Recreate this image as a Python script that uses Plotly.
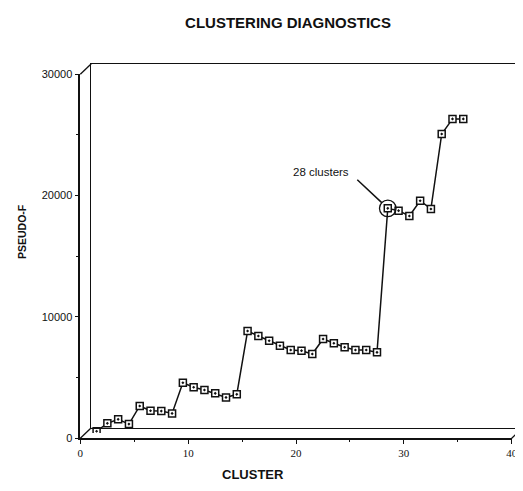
import plotly.graph_objects as go

# ---- data ----
clusters = list(range(1, 36))
pseudo_f = [150, 800, 1130, 740, 2230, 1840, 1810, 1620, 4150, 3770,
            3550, 3270, 2940, 3190, 8410, 8000, 7610, 7200, 6840, 6790,
            6510, 7750, 7400, 7070, 6840, 6840, 6650, 18520, 18330, 17890,
            19150, 18470, 24650, 25890, 25890]
x_ticks = [0, 10, 20, 30, 40]
y_ticks = [0, 10000, 20000, 30000]
x_tick_text = ["0", "10", "20", "30", "40"]
y_tick_text = ["0", "10000", "20000", "30000"]
highlight = 28

# the page places the figure 8px in from the top-left corner
OFF = 8
W, H = 523 - OFF, 491 - OFF
# front plane box (page pixels) and depth offset
FX0, FX1 = 80.3, 511.7
FY0, FY1 = 438.3, 74.3   # page y for 0 and 30000
DX, DY = 11.0, 10.5

def px(x):
    return (x - OFF) / W

def py(y):
    return (H - (y - OFF)) / H

def dom(shift):
    xd = [px(FX0 + DX * shift), px(FX1 + DX * shift)]
    yd = [py(FY0 - DY * shift), py(FY1 - DY * shift)]
    return xd, yd

xd_f, yd_f = dom(0)
xd_m, yd_m = dom(0.5)
xd_b, yd_b = dom(1)
xd_b[1] = min(xd_b[1], 1.0)

INK = "#111111"
fig = go.Figure()

# back wall / floor frame (axes 3)
fig.add_trace(go.Scatter(x=[None], y=[None], xaxis="x3", yaxis="y3",
                         mode="lines", showlegend=False, hoverinfo="skip"))
# front axes (axes 2)
fig.add_trace(go.Scatter(x=[None], y=[None], xaxis="x2", yaxis="y2",
                         mode="lines", showlegend=False, hoverinfo="skip"))
# data (middle plane)
fig.add_trace(go.Scatter(
    x=clusters, y=pseudo_f, mode="lines+markers", showlegend=False,
    line=dict(color=INK, width=1.5),
    marker=dict(symbol="square-dot", size=7, color="white",
                line=dict(color=INK, width=1.5)),
))

xmax, ymax = 40, 30000
frame_common = dict(showgrid=False, zeroline=False, automargin=False)
fig.update_layout(
    template="none",
    width=W, height=H, autosize=False,
    margin=dict(l=0, r=0, t=0, b=0, pad=0, autoexpand=False),
    paper_bgcolor="white", plot_bgcolor="rgba(0,0,0,0)",
    showlegend=False,
    title=dict(text="<b>CLUSTERING DIAGNOSTICS</b>", x=px(288), y=py(23),
               xref="paper", yref="paper",
               xanchor="center", yanchor="middle",
               font=dict(family="Liberation Sans, Arial", size=15, color=INK)),
    xaxis=dict(domain=xd_m, range=[0, xmax], visible=False, anchor="y",
               automargin=False),
    yaxis=dict(domain=yd_m, range=[0, ymax], visible=False, anchor="x",
               automargin=False),
    xaxis3=dict(domain=xd_b, range=[0, xmax], anchor="y3", showline=True,
                mirror=True, linecolor=INK, linewidth=1.2, showticklabels=False,
                ticks="", **frame_common),
    yaxis3=dict(domain=yd_b, range=[0, ymax], anchor="x3", showline=True,
                mirror=True, linecolor=INK, linewidth=1.2, showticklabels=False,
                ticks="", **frame_common),
    xaxis2=dict(domain=xd_f, range=[0, xmax], anchor="y2", showline=True,
                linecolor=INK, linewidth=1.5, ticks="outside", ticklen=4,
                tickwidth=1.2, tickcolor=INK, tickvals=x_ticks,
                ticktext=x_tick_text,
                tickfont=dict(family="Liberation Serif, Times New Roman",
                              size=11, color=INK),
                minor=dict(dtick=5, tick0=0, ticks="outside", ticklen=2,
                           tickcolor=INK, tickwidth=1),
                **frame_common),
    yaxis2=dict(domain=yd_f, range=[0, ymax], anchor="x2", showline=True,
                linecolor=INK, linewidth=1.5, ticks="outside", ticklen=4,
                tickwidth=1.2, tickcolor=INK, tickvals=y_ticks,
                ticktext=y_tick_text,
                tickfont=dict(family="Liberation Sans, Arial", size=11,
                              color=INK),
                minor=dict(dtick=5000, tick0=0, ticks="outside", ticklen=2.5,
                           tickcolor=INK, tickwidth=1),
                **frame_common),
)

# depth connectors between front and back planes
shapes = []
for (cx, cy) in [(0, ymax), (0, 0), (xmax, 0)]:
    fx = FX0 + (FX1 - FX0) * cx / xmax
    fy = FY0 + (FY1 - FY0) * cy / ymax
    shapes.append(dict(type="line", xref="paper", yref="paper",
                       x0=px(fx), y0=py(fy), x1=min(px(fx + DX), 1.0),
                       y1=py(fy - DY),
                       line=dict(color=INK, width=1.3)))
# circle around the highlighted point
hv = pseudo_f[clusters.index(highlight)]
shapes.append(dict(type="circle", xref="x", yref="y",
                   xsizemode="pixel", ysizemode="pixel",
                   xanchor=highlight, yanchor=hv,
                   x0=-8.3, x1=8.3, y0=-8.3, y1=8.3,
                   line=dict(color=INK, width=1.3)))
fig.update_layout(shapes=shapes)

annotations = [
    # leader line to the circle
    dict(x=highlight, y=hv, xref="x", yref="y", text="", showarrow=True,
         arrowhead=0, arrowwidth=1.5, arrowcolor=INK, ax=-32, ay=-30,
         standoff=8.3),
    dict(x=highlight, y=hv, xref="x", yref="y", text="28 clusters",
         showarrow=False, xshift=-67, yshift=36,
         font=dict(family="Liberation Sans, Arial", size=11.5, color=INK)),
    dict(x=px(253), y=py(484), xref="paper", yref="paper",
         text="<b>CLUSTER</b>", showarrow=False,
         font=dict(family="Liberation Sans, Arial", size=13, color=INK)),
    dict(x=px(14), y=py(232), xref="paper", yref="paper",
         text="<b>PSEUDO-F</b>", showarrow=False, textangle=-90,
         font=dict(family="Liberation Sans, Arial", size=10.5, color=INK)),
]
fig.update_layout(annotations=annotations)

fig.write_html("out.html")
